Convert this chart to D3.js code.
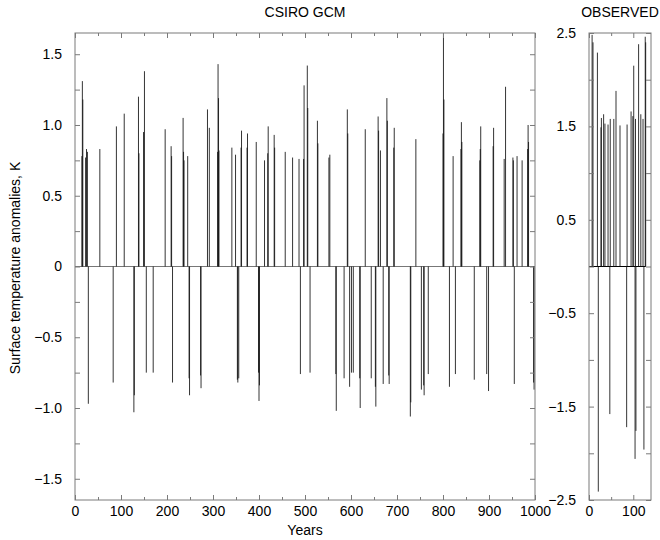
<!DOCTYPE html>
<html><head><meta charset="utf-8">
<script src="https://cdn.jsdelivr.net/npm/d3@7/dist/d3.min.js"></script>
<style>body{margin:0;background:#fff} text{font-family:"Liberation Sans",Arial,Helvetica,sans-serif;fill:#000}</style>
</head><body><svg id="c" width="660" height="540"></svg>
<script>
// ---- CSIRO GCM: years where anomaly exceeded threshold, and values (K)
const gcmYears = [15,16,17,23,25,27,54,90,107,138,139,149,151,196,209,210,235,236,237,245,288,292,310,311,312,313,341,349,361,362,374,375,394,412,419,420,433,434,457,473,487,497,498,505,506,527,528,552,554,592,593,631,659,660,664,678,679,693,694,741,800,801,802,822,839,840,841,880,881,882,909,910,933,936,952,953,961,972,984,985,986,
  29,83,128,129,155,170,212,248,249,273,274,353,354,356,399,400,401,490,511,567,568,585,597,601,605,619,620,644,653,654,670,682,683,729,730,753,758,759,768,814,827,868,895,899,955,997,998];
const gcmValues = [0.78,1.31,1.18,0.77,0.83,0.81,0.83,0.99,1.08,1.20,0.80,0.95,1.38,0.97,0.85,0.78,1.05,0.81,0.75,0.78,1.11,0.98,0.81,1.43,1.19,0.82,0.84,0.79,0.84,0.96,0.84,0.94,0.88,0.75,0.80,0.99,0.93,0.84,0.81,0.77,0.76,0.76,1.28,1.42,1.12,1.03,0.87,0.77,0.79,1.11,0.94,0.97,1.06,0.96,0.82,1.19,1.03,0.84,0.98,0.90,0.94,1.65,1.18,0.78,0.83,1.02,0.88,0.75,0.83,0.99,0.85,0.98,0.76,1.27,0.77,0.75,0.78,0.75,0.83,1.00,0.88,
  -0.97,-0.82,-1.03,-0.91,-0.75,-0.75,-0.82,-0.79,-0.91,-0.77,-0.86,-0.80,-0.82,-0.79,-0.75,-0.95,-0.84,-0.76,-0.75,-0.76,-1.02,-0.79,-0.85,-0.75,-0.75,-0.79,-1.00,-0.79,-0.85,-0.99,-0.83,-0.77,-0.83,-1.06,-0.96,-0.87,-0.84,-0.91,-0.76,-0.85,-0.76,-0.80,-0.76,-0.88,-0.83,-0.82,-0.87];

// ---- OBSERVED
const obsYears  = [7,9,19,27,28,33,36,43,48,56,61,70,86,95,99,101,105,112,117,122,127,128, 21,47,85,104,106,124];
const obsValues = [2.48,2.40,2.29,1.49,1.59,1.63,1.53,1.52,1.58,1.58,1.88,1.51,1.52,1.66,1.61,2.15,1.58,2.38,1.63,1.58,2.46,2.40, -2.41,-1.58,-1.72,-2.06,-1.76,-1.96];

// ---- ticks
const gcmXTicks = [0,100,200,300,400,500,600,700,800,900,1000];
const gcmXMinor = [50,150,250,350,450,550,650,750,850,950];
const gcmYTicks = [-1.5,-1.0,-0.5,0,0.5,1.0,1.5];
const gcmYMinor = [-1.25,-0.75,-0.25,0.25,0.75,1.25];
const obsXTicks = [0,100];
const obsXMinor = [50];
const obsYTicks = [-2.5,-1.5,-0.5,0.5,1.5,2.5];
const obsYMinor = [-2,-1,0,1,2];

const svg = d3.select("#c");
const yTop = 33, yBot = 500;
const fmt = d => d === 0 ? "0" : (d < 0 ? "\u2212" : "") + Math.abs(d).toFixed(1);
const frameCol = "#7a7a7a";

function panel(x0, x1, xDom, yDom, years, vals, xT, xM, yT, yM, title, zeroEnd, zeroCol) {
  const x = d3.scaleLinear().domain(xDom).range([x0, x1]);
  const y = d3.scaleLinear().domain(yDom).range([yBot, yTop]);
  const g = svg.append("g");
  g.append("line").attr("x1", x(0)).attr("x2", x(zeroEnd)).attr("y1", y(0)).attr("y2", y(0))
    .attr("stroke", zeroCol).attr("stroke-width", 1);
  g.selectAll("line.s").data(years.map((yr, i) => [yr, vals[i]])).join("line")
    .attr("class", "s")
    .attr("x1", d => x(d[0])).attr("x2", d => x(d[0]))
    .attr("y1", y(0)).attr("y2", d => y(d[1]))
    .attr("stroke", "#111").attr("stroke-width", 0.85);
  const style = sel => { sel.select(".domain").remove(); sel.selectAll("line").attr("stroke", frameCol); sel.selectAll("text").attr("font-size", 14).attr("font-family", '"Liberation Sans",Arial,sans-serif').attr("fill", "#000"); };
  const allY = yT.concat(yM);
  g.append("g").attr("transform", `translate(0,${yBot})`)
    .call(d3.axisBottom(x).tickValues(xT).tickSize(-5).tickPadding(6).tickFormat(d3.format("d"))).call(style);
  g.append("g").attr("transform", `translate(0,${yBot})`)
    .call(d3.axisBottom(x).tickValues(xM).tickSize(-3).tickFormat("")).call(style);
  g.append("g").attr("transform", `translate(0,${yTop})`)
    .call(d3.axisTop(x).tickValues(xT).tickSize(-5).tickFormat("")).call(style);
  g.append("g").attr("transform", `translate(0,${yTop})`)
    .call(d3.axisTop(x).tickValues(xM).tickSize(-3).tickFormat("")).call(style);
  g.append("g").attr("transform", `translate(${x0},0)`)
    .call(d3.axisLeft(y).tickValues(yT).tickSize(-5).tickPadding(13).tickFormat(fmt)).call(style);
  g.append("g").attr("transform", `translate(${x0},0)`)
    .call(d3.axisLeft(y).tickValues(yM).tickSize(-5).tickFormat("")).call(style);
  g.append("g").attr("transform", `translate(${x1},0)`)
    .call(d3.axisRight(y).tickValues(allY).tickSize(-5).tickFormat("")).call(style);
  g.append("rect").attr("x", x0).attr("y", yTop).attr("width", x1 - x0).attr("height", yBot - yTop)
    .attr("fill", "none").attr("stroke", frameCol).attr("stroke-width", 1);
  svg.append("text").attr("x", (x0 + x1) / 2).attr("y", 17).attr("text-anchor", "middle")
    .attr("font-size", 14).text(title);
  return x;
}

panel(75, 535, [0, 1000], [-1.65, 1.65], gcmYears, gcmValues, gcmXTicks, gcmXMinor, gcmYTicks, gcmYMinor, "CSIRO GCM", 1000, "#777");
panel(589, 651, [0, 140], [-2.5, 2.5], obsYears, obsValues, obsXTicks, obsXMinor, obsYTicks, obsYMinor, "OBSERVED", d3.max(obsYears), "#000");

svg.append("text").attr("x", 305).attr("y", 535).attr("text-anchor", "middle").attr("font-size", 14).text("Years");
svg.append("text").attr("transform", "translate(20,268) rotate(-90)").attr("text-anchor", "middle")
  .attr("font-size", 14).text("Surface temperature anomalies, K");
</script></body></html>
